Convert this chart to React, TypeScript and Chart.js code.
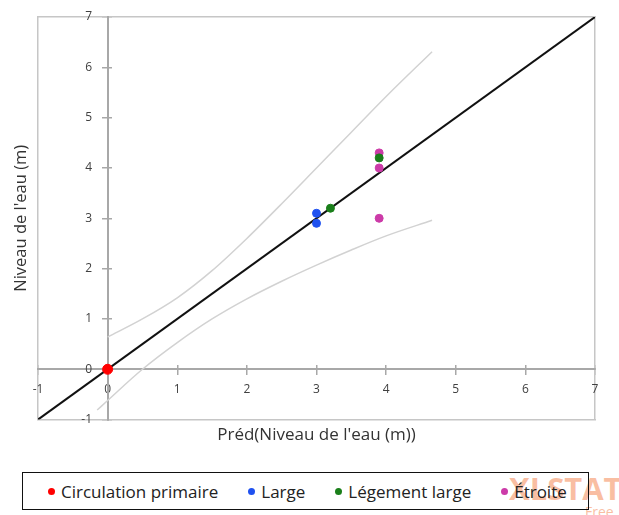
import React, { useEffect, useRef } from "react";
import { Chart, registerables } from "chart.js";

Chart.register(...registerables);

// ---- data ----
const axisMin = -1;
const axisMax = 7;
const xTitle = "Préd(Niveau de l'eau (m))";
const yTitle = "Niveau de l'eau (m)";

const seriesNames = ["Circulation primaire", "Large", "Légement large", "Étroite"];
const seriesColors = ["#ff0000", "#1f51f0", "#1a7f1a", "#cc3ba8"];

const circX = [0];
const circY = [0];
const largeX = [3.0, 3.0];
const largeY = [3.1, 2.9];
const legX = [3.2, 3.9];
const legY = [3.2, 4.2];
const etrX = [3.9, 3.9, 3.9];
const etrY = [4.3, 4.0, 3.0];

const diagX = [-1, 7];
const diagY = [-1, 7];

const upperX = [0, 0.5, 1.0, 1.5, 2.0, 2.5, 3.0, 3.5, 4.0, 4.66];
const upperY = [0.64, 1.0, 1.42, 1.96, 2.6, 3.29, 4.0, 4.71, 5.42, 6.31];
const lowerX = [-0.15, 0, 0.5, 1.0, 1.5, 2.0, 2.5, 3.0, 3.5, 4.0, 4.66];
const lowerY = [-0.81, -0.62, 0.0, 0.53, 1.0, 1.4, 1.75, 2.07, 2.37, 2.65, 2.96];

const pts = (xs: number[], ys: number[]) => xs.map((x, i) => ({ x, y: ys[i] }));

const FRAME = "#c6c6c6";
const AXIS = "#a8a8a8";
const FONT = "'Open Sans', sans-serif";

export default function App() {
  const ref = useRef<HTMLCanvasElement | null>(null);

  useEffect(() => {
    if (!ref.current) return;
    const edge = (position: string, axis: string) => ({
      type: "linear" as const,
      axis,
      position,
      min: axisMin,
      max: axisMax,
      grid: { display: false, drawTicks: false },
      border: { display: true, color: FRAME, width: 1.5 },
      ticks: { display: false, stepSize: 1 },
    });
    const zeroAxis = (axis: string, pos: any, labels: boolean, tl: number) => ({
      type: "linear" as const,
      axis,
      position: pos,
      min: axisMin,
      max: axisMax,
      grid: {
        display: true,
        drawOnChartArea: false,
        drawTicks: true,
        tickLength: tl,
        color: AXIS,
        lineWidth: 1.5,
      },
      border: { display: true, color: AXIS, width: 2 },
      ticks: {
        display: labels,
        stepSize: 1,
        color: "#404040",
        font: { family: FONT, size: 12 },
        padding: 8,
        // y labels of an axis placed at x = 0 are right-aligned on the axis line;
        // trailing spaces push them to the left of it
        callback: axis === "y" ? (v: any) => `${v}     ` : (v: any) => `${v}`,
      },
    });

    const chart = new Chart(ref.current, {
      type: "scatter",
      data: {
        datasets: [
          {
            label: seriesNames[0],
            data: pts(circX, circY),
            backgroundColor: seriesColors[0],
            borderColor: seriesColors[0],
            pointRadius: 5,
            order: 1,
          },
          {
            label: seriesNames[1],
            data: pts(largeX, largeY),
            backgroundColor: seriesColors[1],
            borderColor: seriesColors[1],
            pointRadius: 4,
            order: 2,
          },
          {
            label: seriesNames[2],
            data: pts(legX, legY),
            backgroundColor: seriesColors[2],
            borderColor: seriesColors[2],
            pointRadius: 4,
            order: 3,
          },
          {
            label: seriesNames[3],
            data: pts(etrX, etrY),
            backgroundColor: seriesColors[3],
            borderColor: seriesColors[3],
            pointRadius: 4,
            order: 4,
          },
          {
            label: "diag",
            data: pts(diagX, diagY),
            showLine: true,
            borderColor: "#111111",
            borderWidth: 2,
            pointRadius: 0,
            order: 5,
          },
          {
            label: "upper",
            data: pts(upperX, upperY),
            showLine: true,
            borderColor: "#d2d2d2",
            borderWidth: 1.5,
            pointRadius: 0,
            cubicInterpolationMode: "monotone",
            order: 6,
          },
          {
            label: "lower",
            data: pts(lowerX, lowerY),
            showLine: true,
            borderColor: "#d2d2d2",
            borderWidth: 1.5,
            pointRadius: 0,
            cubicInterpolationMode: "monotone",
            order: 7,
          },
        ],
      },
      options: {
        animation: false,
        responsive: true,
        maintainAspectRatio: false,
        layout: { padding: { top: 17, right: 24, left: 9, bottom: 14.4 } },
        plugins: { legend: { display: false }, tooltip: { enabled: false } },
        scales: {
          x: {
            ...edge("bottom", "x"),
            title: {
              display: true,
              text: xTitle,
              color: "#333333",
              font: { family: FONT, size: 17, lineHeight: 1.2 },
              padding: { top: 5.6, bottom: 0 },
            },
          },
          y: {
            ...edge("left", "y"),
            title: {
              display: true,
              text: yTitle,
              color: "#333333",
              font: { family: FONT, size: 16.5, lineHeight: 1.2 },
              padding: { top: 2.1, bottom: 7.1 },
            },
          },
          xTop: edge("top", "x"),
          yRight: edge("right", "y"),
          x0: zeroAxis("x", { y: 0 }, true, 5),
          x0b: zeroAxis("x", { y: 0 }, false, -5),
          y0: zeroAxis("y", { x: 0 }, true, 5),
          y0b: zeroAxis("y", { x: 0 }, false, -5),
        } as any,
      },
    });
    return () => chart.destroy();
  }, []);

  const legendItems = seriesNames.map((n, i) => (
    <div key={n} style={{ display: "flex", alignItems: "center", marginRight: i < 3 ? 30 : 0 }}>
      <span
        style={{
          display: "inline-block",
          width: 7,
          height: 7,
          borderRadius: "50%",
          background: seriesColors[i],
          marginRight: 6,
        }}
      />
      <span>{n}</span>
    </div>
  ));

  return (
    <div
      style={{
        position: "absolute",
        left: 0,
        top: 0,
        width: 619,
        height: 515,
        background: "#ffffff",
        overflow: "hidden",
      }}
    >
      <div style={{ position: "absolute", left: 0, top: 0, width: 619, height: 460 }}>
        <canvas ref={ref} />
      </div>
      <div
        style={{
          position: "absolute",
          left: 509,
          top: 471,
          fontFamily: "'Open Sans', sans-serif",
          fontWeight: 700,
          fontSize: 31,
          lineHeight: "34px",
          color: "rgba(243,125,70,0.5)",
          whiteSpace: "nowrap",
          pointerEvents: "none",
        }}
      >
        XLSTAT
        <div style={{ fontSize: 14, lineHeight: "14px", marginLeft: 76, fontWeight: 400 }}>Free</div>
      </div>
      <div
        style={{
          position: "absolute",
          left: 22,
          top: 472,
          width: 567,
          height: 38,
          boxSizing: "border-box",
          border: "1.5px solid #111",
          display: "flex",
          alignItems: "center",
          paddingLeft: 25,
          fontFamily: FONT,
          fontSize: 17,
          color: "#222",
        }}
      >
        {legendItems}
      </div>
    </div>
  );
}
